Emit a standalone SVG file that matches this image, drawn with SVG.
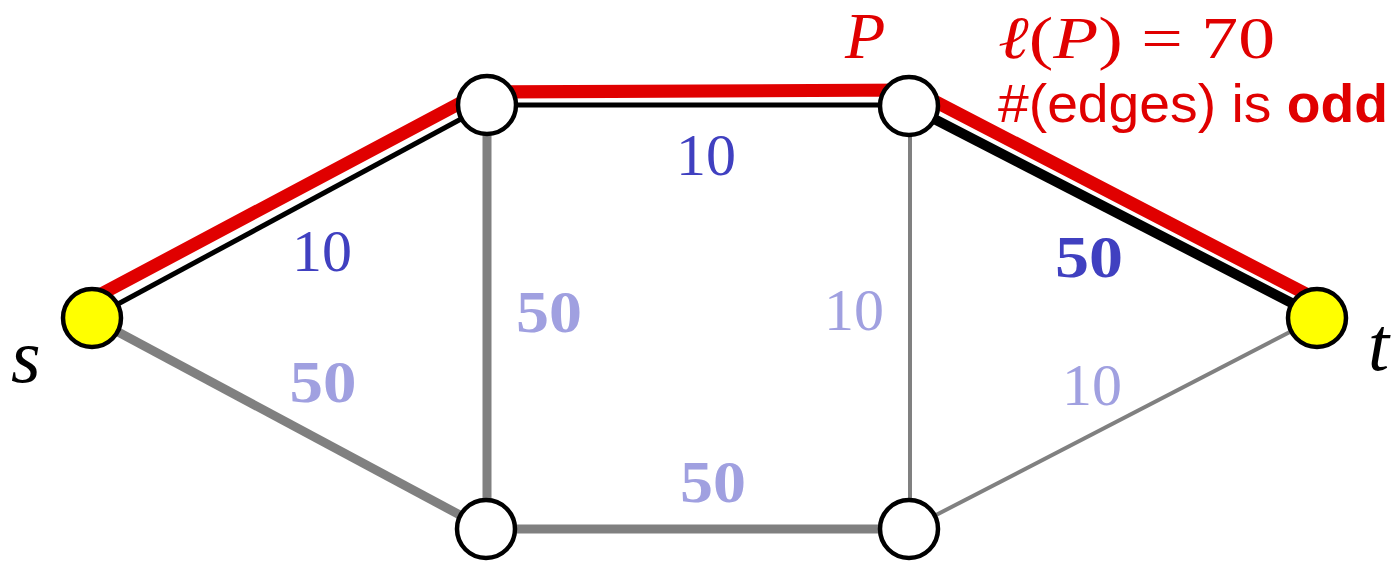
<svg xmlns="http://www.w3.org/2000/svg" width="1396" height="563" viewBox="0 0 1396 563">
<style>
.g{stroke:#808080;fill:none;stroke-linecap:butt}
.thick{stroke-width:9}
.thin{stroke-width:4}
.blk{stroke:#000;fill:none}
.node{fill:#fff;stroke:#000;stroke-width:4.5}
.term{fill:#ffff00;stroke:#000;stroke-width:4.5}
.w{font-family:"Liberation Serif","DejaVu Serif",serif;font-size:60px;text-anchor:middle}
.dark{fill:#4040c0}
.light{fill:#a0a0e0}
.b{font-weight:bold}
.math{font-family:"Liberation Serif","DejaVu Serif",serif;fill:#e00000}
.var{font-family:"Liberation Serif","DejaVu Serif",serif;font-style:italic;fill:#000;font-size:76px}
.it{font-style:italic}
</style>
<rect width="1396" height="563" fill="#fff"/>
<g id="connectors">
<line class="g thick" x1="92" y1="318" x2="486" y2="529"/>
<line class="g thick" x1="487" y1="105" x2="487" y2="529"/>
<line class="g thick" x1="486" y1="529" x2="909" y2="529"/>
<line class="g thin" x1="910" y1="106" x2="910" y2="529"/>
<line class="g thin" x1="909" y1="529" x2="1317" y2="318"/>
<line class="blk" stroke-width="5" x1="92" y1="318" x2="487" y2="105"/>
<line class="blk" stroke-width="5" x1="487" y1="105" x2="909" y2="105"/>
<line class="blk" stroke-width="10" x1="909" y1="106" x2="1317" y2="316"/>
<polyline points="90,300 481,92 913,90 1310,296" fill="none" stroke="#fff" stroke-width="17" stroke-linejoin="miter"/>
<polyline points="90,300 481,92 913,90 1310,296" fill="none" stroke="#e00000" stroke-width="13" stroke-linejoin="miter"/>
</g>
<g id="node-s"><circle class="term" cx="92" cy="318" r="29"/><text class="var" x="11" y="382">s</text></g>
<g id="node-a"><circle class="node" cx="487" cy="105" r="29"/></g>
<g id="node-b"><circle class="node" cx="909" cy="106" r="29"/></g>
<g id="node-c"><circle class="node" cx="486" cy="529" r="29"/></g>
<g id="node-d"><circle class="node" cx="909" cy="529" r="29"/></g>
<g id="node-t"><circle class="term" cx="1317" cy="318" r="29"/><text class="var" x="1368" y="370">t</text></g>
<g id="labels">
<text class="w dark" x="322" y="271">10</text>
<text class="w dark" x="706" y="175">10</text>
<text class="w dark b" x="1089" y="277" textLength="68" lengthAdjust="spacingAndGlyphs">50</text>
<text class="w light b" x="549" y="332" textLength="66" lengthAdjust="spacingAndGlyphs">50</text>
<text class="w light" x="854" y="330">10</text>
<text class="w light b" x="323" y="402" textLength="67" lengthAdjust="spacingAndGlyphs">50</text>
<text class="w light" x="1092" y="405">10</text>
<text class="w light b" x="713" y="502" textLength="66" lengthAdjust="spacingAndGlyphs">50</text>
</g>
<g id="annotation">
<text class="math it" x="845" y="58" font-size="66">P</text>
<text class="math" x="998" y="58" font-size="60" textLength="277" lengthAdjust="spacingAndGlyphs"><tspan class="it">ℓ</tspan>(<tspan class="it">P</tspan>) = 70</text>
<text x="998" y="122" font-family="Liberation Sans,Arial,sans-serif" font-size="54" fill="#e00000" textLength="390" lengthAdjust="spacingAndGlyphs">#(edges) is <tspan font-weight="bold">odd</tspan></text>
</g>
</svg>
